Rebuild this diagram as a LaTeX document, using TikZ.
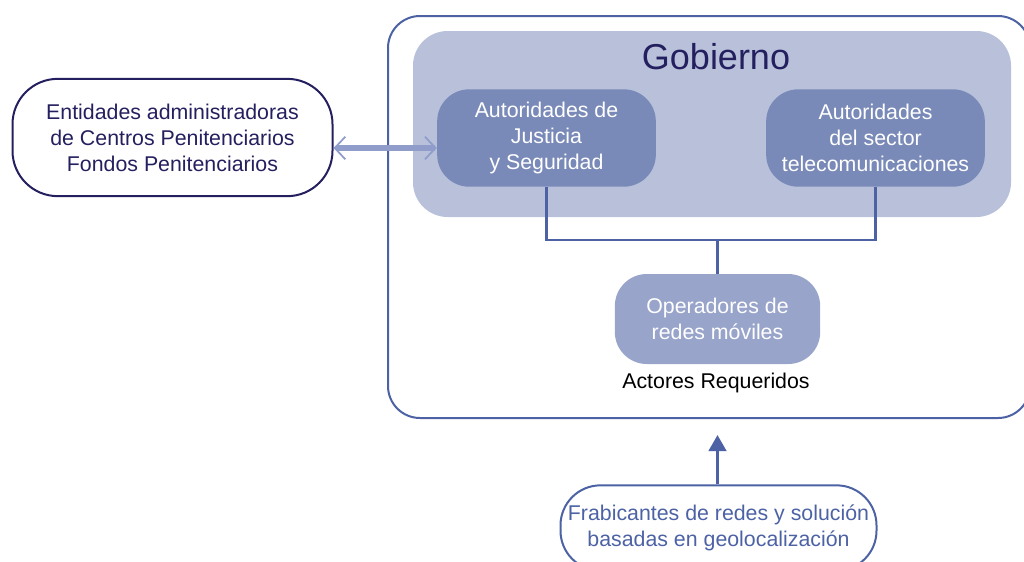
\documentclass[tikz,border=0pt]{standalone}
\usepackage{fontspec}
\setmainfont{Liberation Sans}
\usepackage{tikz}
\usetikzlibrary{positioning, arrows.meta}

\definecolor{navy}{HTML}{241F5E}
\definecolor{linea}{HTML}{4C62A4}
\definecolor{gobfill}{HTML}{B8C0DA}
\definecolor{autfill}{HTML}{7A8AB8}
\definecolor{opfill}{HTML}{98A4CA}
\definecolor{flecha}{HTML}{909DCA}

\begin{document}
\begin{tikzpicture}[x=0.75pt, y=-0.75pt, semithick,
    actor/.style={rounded corners=24pt, fill=autfill, text=white, align=center,
        font=\fontsize{16}{19.5}\selectfont, minimum width=164pt, minimum height=73pt, inner sep=0pt},
    externo/.style={rounded corners=34pt, draw, line width=1.5pt, align=center,
        font=\fontsize{16}{19.5}\selectfont, inner sep=0pt}]
    \clip (0,0) rectangle (1024,561);
    \useasboundingbox (0,0) rectangle (1024,561);

    % marco de actores requeridos
    \draw[linea, line width=1.5pt, rounded corners=24pt] (388,16) rectangle (1030,418);
    \node[fill=gobfill, rounded corners=26pt, minimum width=448.5pt, minimum height=139.5pt,
        inner sep=0pt] (gob) at (712,124) {};
    \node[navy, font=\fontsize{27}{30}\selectfont] (gobt) at (716,57) {Gobierno};

    \node[actor] (just) at (546.5,138) {Autoridades de\\Justicia\\y Seguridad};
    \node[actor] (tele) at (875.5,138) {Autoridades\\del sector\\telecomunicaciones};
    \node[actor, fill=opfill, minimum width=154pt, minimum height=67.5pt] (oper) at (717.5,319)
        {Operadores de\\redes móviles};
    \node[font=\fontsize{16}{19}\selectfont] (req) at (716,383) {Actores Requeridos};

    \coordinate (cruce) at (oper.north |- 0,240);
    \draw[linea, line width=1.8pt] (just.south) -- (just.south |- cruce) -- (tele.south |- cruce) -- (tele.south);
    \draw[linea, line width=1.8pt] (cruce) -- (oper.north);

    % entidades externas
    \node[externo, navy, text=navy, minimum width=240pt, minimum height=88pt] (ent) at (172.5,137.5)
        {Entidades administradoras\\de Centros Penitenciarios\\Fondos Penitenciarios};
    \node[externo, linea, text=linea, rounded corners=30pt, minimum width=237pt, minimum height=64pt] (fab) at (718.5,528)
        {Frabicantes de redes y solución\\basadas en geolocalización};

    \draw[flecha, line width=3.8pt, {Straight Barb[length=8pt, width=17pt, line width=1.3pt]}-{Straight Barb[length=8pt, width=17pt, line width=1.3pt]}]
        (ent.east |- 0,148) -- (just.west |- 0,148);
    \draw[linea, line width=2.5pt, -{Triangle[length=12pt, width=13pt]}] (fab.north -| oper) -- (oper |- 0,435);
\end{tikzpicture}
\end{document}
